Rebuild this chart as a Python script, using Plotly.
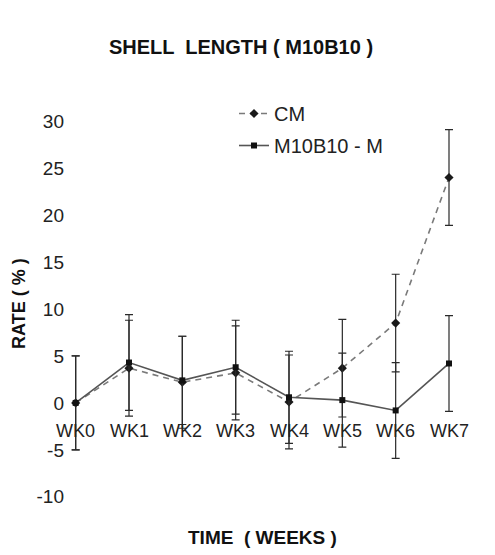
import plotly.graph_objects as go

weeks = ["WK0", "WK1", "WK2", "WK3", "WK4", "WK5", "WK6", "WK7"]
y_ticks = [30, 25, 20, 15, 10, 5, 0, -5, -10]

cm_vals = [0.0, 3.7, 2.2, 3.2, 0.1, 3.7, 8.5, 24.0]
cm_err = [5.0, 5.1, 4.9, 5.0, 5.0, 5.2, 5.2, 5.1]

m_vals = [0.0, 4.3, 2.4, 3.8, 0.6, 0.3, -0.8, 4.2]
m_err = [5.0, 5.1, 4.7, 5.0, 4.9, 5.0, 5.1, 5.1]

x_idx = list(range(len(weeks)))

W, H = 495, 555
L, R, T, B = 65, 14, 93, 30
pw, ph = W - L - R, H - T - B


def px_x(px):
    return (px - L) / pw


def px_y(py):
    return (H - B - py) / ph


FONT = "Liberation Sans, Arial, sans-serif"

fig = go.Figure()

fig.add_trace(go.Scatter(
    x=x_idx, y=cm_vals, name="CM", mode="lines+markers",
    legendgroup="a",
    line=dict(color="#7a7a7a", width=1.6, dash="6px,5px"),
    marker=dict(symbol="diamond", size=7, color="#1a1a1a"),
    error_y=dict(type="data", array=cm_err, visible=True,
                 color="#2a2a2a", thickness=1.2, width=4),
))
fig.add_trace(go.Scatter(
    x=x_idx, y=m_vals, name="M10B10 - M", mode="lines+markers",
    legendgroup="b",
    line=dict(color="#555555", width=1.6),
    marker=dict(symbol="square", size=6, color="#111111"),
    error_y=dict(type="data", array=m_err, visible=True,
                 color="#2a2a2a", thickness=1.2, width=4),
))

annotations = []
for i, lab in enumerate(weeks):
    annotations.append(dict(
        x=i, y=0, xref="x", yref="y", text=lab, showarrow=False,
        yanchor="middle", xanchor="center", yshift=-28,
        font=dict(family=FONT, size=18, color="#222"),
    ))

annotations.append(dict(
    x=px_x(262), y=px_y(537), xref="paper", yref="paper",
    text="<b>TIME  ( WEEKS )</b>", showarrow=False,
    xanchor="center", yanchor="middle",
    font=dict(family=FONT, size=19, color="#111"),
))
annotations.append(dict(
    x=px_x(19), y=px_y(304), xref="paper", yref="paper",
    text="<b>RATE ( % )</b>", showarrow=False, textangle=-90,
    xanchor="center", yanchor="middle",
    font=dict(family=FONT, size=18, color="#111"),
))

fig.update_layout(
    width=W, height=H,
    margin=dict(l=L, r=R, t=T, b=B),
    paper_bgcolor="white", plot_bgcolor="white",
    title=dict(
        text="<b>SHELL  LENGTH ( M10B10 )</b>",
        x=241 / W, xanchor="center",
        y=1 - 47 / H, yanchor="middle",
        font=dict(family=FONT, size=20, color="#111"),
    ),
    xaxis=dict(
        range=[-0.2, 7.6], showgrid=False, zeroline=False,
        showline=False, showticklabels=False, ticks="",
    ),
    yaxis=dict(
        range=[-13, 33], tickvals=y_ticks,
        ticktext=[str(v) for v in y_ticks],
        showgrid=False, zeroline=False, showline=False, ticks="",
        tickfont=dict(family=FONT, size=19, color="#222"),
    ),
    legend=dict(
        x=px_x(234), y=px_y(94), xanchor="left", yanchor="top",
        bgcolor="rgba(0,0,0,0)", borderwidth=0,
        font=dict(family=FONT, size=20, color="#222"),
        tracegroupgap=3, traceorder="grouped",
    ),
    annotations=annotations,
)

fig.write_html("out.html")
